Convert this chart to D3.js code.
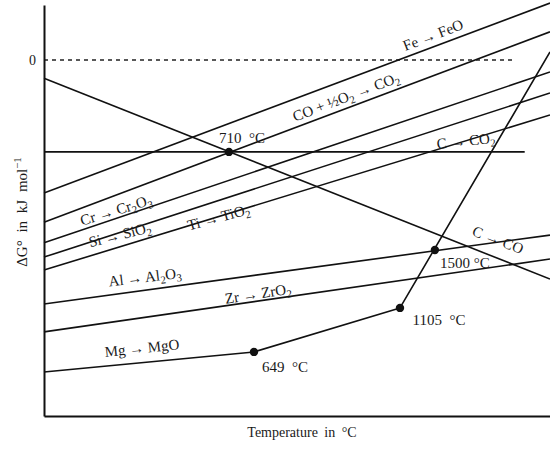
<!DOCTYPE html>
<html><head><meta charset="utf-8">
<script src="https://cdn.jsdelivr.net/npm/d3@7"></script>
<style>
body{margin:0;background:#fff}
svg{display:block;background:#fff}
text{font-family:"Liberation Serif","Times New Roman",serif;fill:#1a1a1a}
</style>
</head><body>
<svg id="chart" width="550" height="452"></svg>
<script>
// ---- data (schematic Ellingham diagram; T in °C, ΔG° in kJ/mol) ----
const tempDomain = [0, 2000];
const dgDomain = [-1100, 170];
const zeroLine = [[0, 0], [1850, 0]];

const feFeO   = [[0, -411], [2000, 176]];
const coCO2   = [[0, -501], [2000, 87]];
const cCO2    = [[0, -284], [1900, -284]];
const cCO     = [[0, -56],  [2000, -677]];
const crCr2O3 = [[0, -565], [2000, -37]];
const siSiO2  = [[0, -609], [2000, -102]];
const tiTiO2  = [[0, -649], [2000, -170]];
const alAl2O3 = [[0, -754], [2000, -541]];
const zrZrO2  = [[0, -840], [2000, -615]];
const mgMgO   = [[0, -964], [830, -902], [1407, -766], [2000, 25]];

const reactionLines = [feFeO, coCO2, cCO2, cCO, crCr2O3, siSiO2, tiTiO2, alAl2O3, zrZrO2, mgMgO];

// transition points
const pointTemps = [731, 830, 1407, 1545];
const pointDG    = [-284, -902, -766, -587];

// labels: text, anchor T, anchor ΔG, rotation
const labelTexts = ["Fe → FeO", "CO + ½O_2 → CO_2", "710  °C", "C → CO_2", "Cr → Cr_2O_3",
  "Si → SiO_2", "Ti → TiO_2", "Al → Al_2O_3", "Zr → ZrO_2", "Mg → MgO",
  "649  °C", "1105  °C", "1500 °C", "C → CO"];
const labelT   = [1538, 1194, 783, 1668, 285, 300, 690, 399, 846, 387, 953, 1561, 1664, 1794];
const labelDG  = [77, -114, -241, -250, -464, -540, -486, -671, -722, -890, -949, -803, -627, -556];
const labelRot = [-21, -21, 0, -6, -17, -14, -15, -7, -9, -6, 0, 0, 0, 21];

const xTitle = "Temperature in °C";
const yTitle = "ΔG° in kJ mol^{−1}";

// ---- drawing ----
const svg = d3.select("#chart");
const x = d3.scaleLinear().domain(tempDomain).range([44, 550]);
const y = d3.scaleLinear().domain(dgDomain).range([416, 5]);

function richText(sel, str, size) {
  const parts = str.split(/(_\{[^}]*\}|_.|\^\{[^}]*\}|\^.)/).filter(s => s.length);
  let shift = 0;
  parts.forEach(p => {
    let txt = p, d = 0;
    if (p[0] === "_" ) { txt = p[1] === "{" ? p.slice(2, -1) : p.slice(1); d = size * 0.3; }
    else if (p[0] === "^") { txt = p[1] === "{" ? p.slice(2, -1) : p.slice(1); d = -size * 0.4; }
    const t = sel.append("tspan").text(txt).attr("dy", d - shift);
    if (d !== 0) t.attr("font-size", size * 0.72);
    shift = d;
  });
}

// zero line
svg.append("path")
  .attr("d", d3.line().x(d => x(d[0])).y(d => y(d[1]))(zeroLine))
  .attr("fill", "none").attr("stroke", "#222").attr("stroke-width", 1.5)
  .attr("stroke-dasharray", "4,4");

// reaction lines
const line = d3.line().x(d => x(d[0])).y(d => y(d[1]));
svg.append("g").selectAll("path").data(reactionLines).join("path")
  .attr("d", line).attr("fill", "none").attr("stroke", "#111")
  .attr("stroke-width", 1.6).attr("stroke-linejoin", "round");

// points
svg.append("g").selectAll("circle").data(pointTemps).join("circle")
  .attr("cx", d => x(d)).attr("cy", (d, i) => y(pointDG[i])).attr("r", 4.2)
  .attr("fill", "#111");

// axes
const xAxis = svg.append("g").attr("transform", "translate(0,416)")
  .call(d3.axisBottom(x).tickValues([]).tickSizeOuter(0));
const yAxis = svg.append("g").attr("transform", "translate(44,0)")
  .call(d3.axisLeft(y).tickValues([0]).tickSize(0).tickPadding(8).tickSizeOuter(0));
[xAxis, yAxis].forEach(g => {
  g.select(".domain").attr("stroke", "#111").attr("stroke-width", 2);
  g.selectAll("text").attr("font-family", "Liberation Serif, serif").attr("font-size", 14).attr("fill", "#222");
});

// labels
labelTexts.forEach((s, i) => {
  const size = 15;
  const t = svg.append("text")
    .attr("transform", `translate(${x(labelT[i])},${y(labelDG[i])}) rotate(${labelRot[i]})`)
    .attr("text-anchor", "middle").attr("dominant-baseline", "central")
    .attr("font-size", size).style("white-space", "pre");
  richText(t, s, size);
});

// titles
svg.append("text").attr("x", 302).attr("y", 437).attr("text-anchor", "middle")
  .attr("font-size", 14).style("word-spacing", "3px").text(xTitle);
const yt = svg.append("text").attr("transform", "translate(27,212) rotate(-90)")
  .attr("text-anchor", "middle").attr("font-size", 15).style("word-spacing", "4px");
richText(yt, yTitle, 15);
</script>
</body></html>
